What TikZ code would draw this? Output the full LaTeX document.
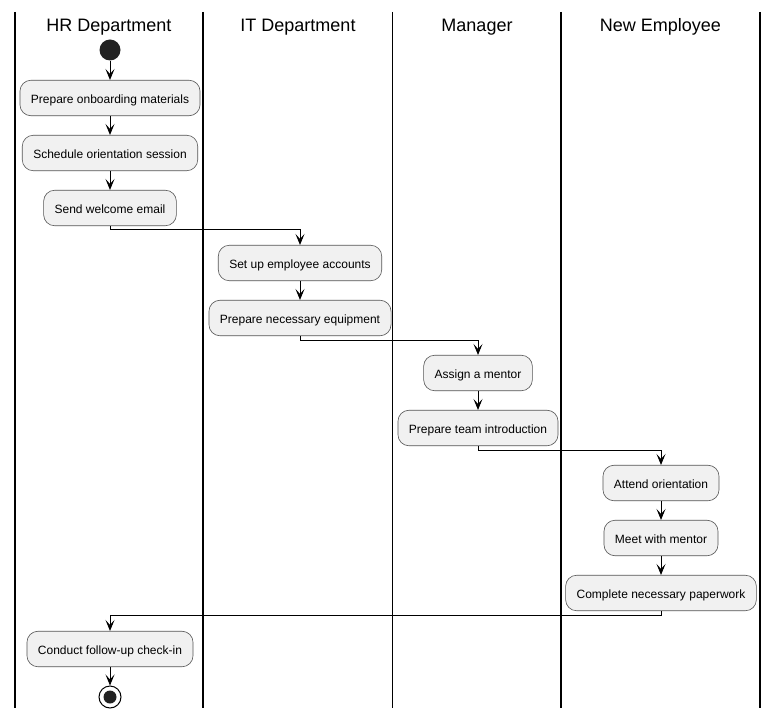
\documentclass[tikz,border=0pt]{standalone}
\usepackage{fontspec}
\setmainfont{Liberation Sans}
\usetikzlibrary{arrows.meta}
\definecolor{boxfill}{HTML}{F1F1F1}
\definecolor{boxline}{HTML}{555555}
\definecolor{dotfill}{HTML}{222222}
\tikzset{
  act/.style={draw=boxline, line width=0.6pt, fill=boxfill, rounded corners=11pt,
    minimum height=35.5pt, inner xsep=11pt, inner ysep=0pt,
    text height=11pt, text depth=0pt,
    font=\fontsize{12}{14}\selectfont},
  lanetitle/.style={font=\fontsize{18}{21}\selectfont, inner sep=0pt,
    text height=12.9pt, text depth=3.8pt},
  lane/.style={line width=1.3pt, black},
  flow/.style={line width=0.9pt, black, -{Stealth[length=11pt,width=9pt,inset=5pt]}},
}
\begin{document}
\begin{tikzpicture}[x=1pt,y=-1pt]
\useasboundingbox (0,0) rectangle (778,719);
\fill[white] (0,0) rectangle (778,719);
% lanes
\draw[lane] (15,12) -- (15,708);
\draw[lane] (203,12) -- (203,708);
\draw[lane] (392.5,12) -- (392.5,708);
\draw[lane] (561,12) -- (561,708);
\draw[lane] (760,12) -- (760,708);
\node[lanetitle] (t1) at (109,26.5) {HR Department};
\node[lanetitle] (t2) at (298,26.5) {IT Department};
\node[lanetitle] (t3) at (477,26.5) {Manager};
\node[lanetitle] (t4) at (660.5,26.5) {New Employee};
% start
\node[circle, fill=dotfill, minimum size=21pt, inner sep=0pt] (start) at (110,50) {};
% HR
\node[act] (a1) at (110,98) {Prepare onboarding materials};
\node[act] (a2) at (110,153) {Schedule orientation session};
\node[act] (a3) at (110,208) {Send welcome email};
% IT
\node[act] (b1) at (300,263) {Set up employee accounts};
\node[act] (b2) at (300,318) {Prepare necessary equipment};
% Manager
\node[act] (c1) at (478,373) {Assign a mentor};
\node[act] (c2) at (478,428) {Prepare team introduction};
% New employee
\node[act] (d1) at (661,483) {Attend orientation};
\node[act] (d2) at (661,538) {Meet with mentor};
\node[act] (d3) at (661,593) {Complete necessary paperwork};
% HR end
\node[act] (a4) at (110,649) {Conduct follow-up check-in};
\node[circle, draw=black, line width=1pt, fill=white, minimum size=22pt, inner sep=0pt] (stop) at (110,697) {};
\node[circle, fill=dotfill, minimum size=13pt, inner sep=0pt] (stopin) at (stop.center) {};
% flows
\draw[flow] (start) -- (a1);
\draw[flow] (a1) -- (a2);
\draw[flow] (a2) -- (a3);
\draw[flow] (a3.south) -- ++(0,3) -| (b1.north);
\draw[flow] (b1) -- (b2);
\draw[flow] (b2.south) -- ++(0,4.5) -| (c1.north);
\draw[flow] (c1) -- (c2);
\draw[flow] (c2.south) -- ++(0,4.5) -| (d1.north);
\draw[flow] (d1) -- (d2);
\draw[flow] (d2) -- (d3);
\draw[flow] (d3.south) -- ++(0,4.5) -| (a4.north);
\draw[flow] (a4) -- (stop);
\end{tikzpicture}
\end{document}
